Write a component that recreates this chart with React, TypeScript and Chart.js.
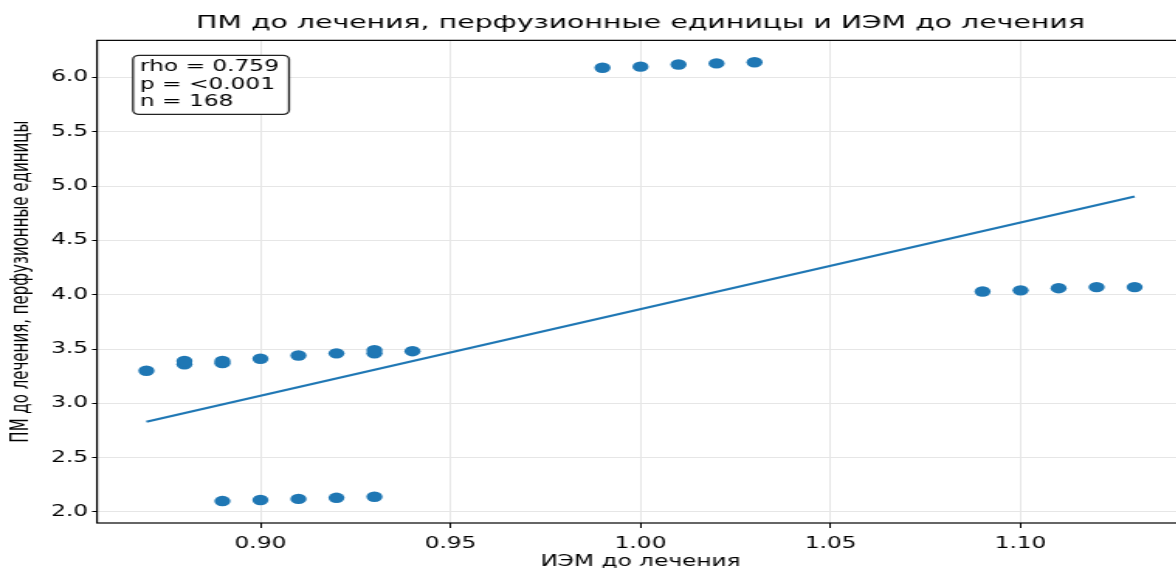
import { useEffect, useRef } from "react";
import { Chart, registerables } from "chart.js";

Chart.register(...registerables);

// ---- data ----
const titleText = "ПМ до лечения, перфузионные единицы и ИЭМ до лечения";
const xAxisLabel = "ИЭМ до лечения";
const yAxisLabel = "ПМ до лечения, перфузионные единицы";
const statsLines = ["rho = 0.759", "p = <0.001", "n = 168"];

const pointX = [
  0.89, 0.90, 0.91, 0.92, 0.93,
  0.87, 0.88, 0.88, 0.89, 0.89, 0.90, 0.91, 0.92, 0.93, 0.93, 0.94,
  0.99, 1.00, 1.01, 1.02, 1.03,
  1.09, 1.10, 1.11, 1.12, 1.13,
];
const pointY = [
  2.10, 2.11, 2.12, 2.13, 2.14,
  3.30, 3.36, 3.39, 3.37, 3.39, 3.41, 3.44, 3.46, 3.46, 3.49, 3.48,
  6.09, 6.10, 6.12, 6.13, 6.14,
  4.03, 4.04, 4.06, 4.07, 4.07,
];
const fitX = [0.87, 1.13];
const fitY = [2.83, 4.905];

const xTicks = [0.9, 0.95, 1.0, 1.05, 1.1];
const yTicks = [2.0, 2.5, 3.0, 3.5, 4.0, 4.5, 5.0, 5.5, 6.0];
const xRange = [0.857, 1.143];
const yRange = [1.898, 6.342];

// ---- layout / style ----
const STRETCH = 1.55;
const FINAL_W = 1176;
const FINAL_H = 568;
const LOGICAL_W = 1200 / STRETCH;
const C0 = "#1f77b4";
const FONT = "DejaVu Sans";

const framePlugin = {
  id: "frame",
  afterDraw(chart: any) {
    const { ctx, chartArea } = chart;
    const { left, top, right, bottom } = chartArea;
    ctx.save();
    ctx.strokeStyle = "#000";
    ctx.lineWidth = 1.2;
    ctx.strokeRect(left, top, right - left, bottom - top);

    // stats box
    const bx = left + (133 - 97) / STRETCH;
    const by = top + 15;
    const bw = (289 - 133) / STRETCH;
    const bh = 59;
    ctx.beginPath();
    (ctx as any).roundRect(bx, by, bw, bh, 4);
    ctx.fillStyle = "#fff";
    ctx.fill();
    ctx.strokeStyle = "#222";
    ctx.lineWidth = 1.3;
    ctx.stroke();
    ctx.fillStyle = "#000";
    ctx.font = `15px "${FONT}"`;
    ctx.textBaseline = "middle";
    ctx.textAlign = "left";
    statsLines.forEach((t, i) => {
      ctx.fillText(t, bx + 7 / STRETCH, by + 12 + i * 17.5);
    });
    ctx.restore();
  },
};

export default function App() {
  const ref = useRef<HTMLCanvasElement>(null);
  useEffect(() => {
    const chart = new Chart(ref.current!, {
      type: "scatter",
      data: {
        datasets: [
          {
            type: "scatter",
            data: pointX.map((x, i) => ({ x, y: pointY[i] })),
            backgroundColor: C0,
            borderWidth: 0,
            pointRadius: 5.2,
            pointHoverRadius: 5.2,
          } as any,
          {
            type: "line",
            data: fitX.map((x, i) => ({ x, y: fitY[i] })),
            borderColor: C0,
            borderWidth: 2.2,
            pointRadius: 0,
            fill: false,
          } as any,
        ],
      },
      options: {
        animation: false,
        responsive: true,
        maintainAspectRatio: false,
        layout: { padding: { left: 0, right: 16 / STRETCH, top: 0, bottom: 0 } },
        plugins: {
          legend: { display: false },
          tooltip: { enabled: false },
          title: {
            display: true,
            text: titleText,
            fullSize: false,
            color: "#000",
            font: { family: FONT, size: 18.3, weight: "normal" },
            padding: { top: 12, bottom: 6.4 },
          },
        },
        scales: {
          x: {
            type: "linear",
            min: xRange[0],
            max: xRange[1],
            afterBuildTicks: (s: any) => {
              s.ticks = xTicks.map((v) => ({ value: v }));
            },
            afterFit: (s: any) => {
              s.height = 45;
            },
            ticks: {
              callback: (v: any) => Number(v).toFixed(2),
              color: "#000",
              font: { family: FONT, size: 15 },
              padding: 7.5,
              maxRotation: 0,
              autoSkip: false,
            },
            grid: { color: "#e6e6e6", tickColor: "#000", tickLength: 5, lineWidth: 1 },
            border: { display: false },
            title: {
              display: true,
              text: xAxisLabel,
              color: "#000",
              font: { family: FONT, size: 15, lineHeight: 0.8 },
              padding: { top: 0, bottom: 0 },
            },
          },
          y: {
            type: "linear",
            min: yRange[0],
            max: yRange[1],
            afterBuildTicks: (s: any) => {
              s.ticks = yTicks.map((v) => ({ value: v }));
            },
            afterFit: (s: any) => {
              s.width = 97 / STRETCH;
            },
            ticks: {
              callback: (v: any) => Number(v).toFixed(1),
              color: "#000",
              font: { family: FONT, size: 15 },
              padding: 2.6,
              autoSkip: false,
            },
            grid: { color: "#e6e6e6", tickColor: "#000", tickLength: 3.2, lineWidth: 1 },
            border: { display: false },
            title: {
              display: true,
              text: yAxisLabel,
              color: "#000",
              font: { family: FONT, size: 15 },
              padding: { top: 5, bottom: 0 },
            },
          },
        },
      },
      plugins: [framePlugin],
    });
    return () => chart.destroy();
  }, []);

  return (
    <div
      style={{
        position: "fixed",
        left: 0,
        top: 0,
        width: FINAL_W,
        height: FINAL_H,
        overflow: "hidden",
        background: "#fff",
      }}
    >
      <div
        style={{
          width: LOGICAL_W,
          height: FINAL_H,
          transform: `scaleX(${STRETCH})`,
          transformOrigin: "0 0",
        }}
      >
        <canvas ref={ref} />
      </div>
    </div>
  );
}
